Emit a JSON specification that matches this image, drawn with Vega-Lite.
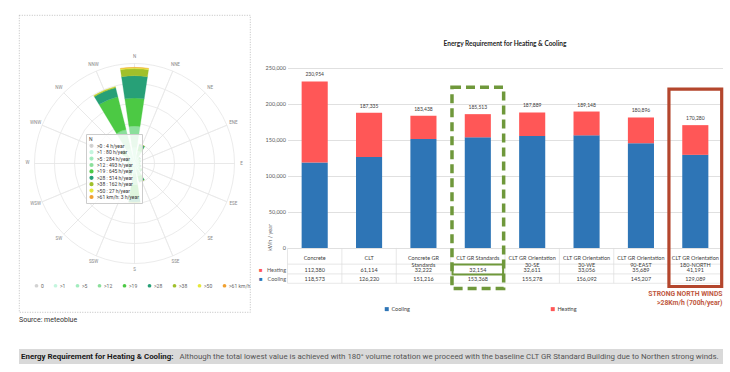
{
"$schema":"https://vega.github.io/schema/vega-lite/v6.json",
"padding":{"left":18,"top":14,"right":0,"bottom":0},
"background":"white",
"config":{"view":{"stroke":null},"font":"Lato"},
"datasets":{
"rose":[
{"d":"N","a":0,"c":"0","h":4},{"d":"N","a":0,"c":">1","h":80},{"d":"N","a":0,"c":">5","h":284},{"d":"N","a":0,"c":">12","h":493},{"d":"N","a":0,"c":">19","h":645},{"d":"N","a":0,"c":">28","h":514},{"d":"N","a":0,"c":">38","h":162},{"d":"N","a":0,"c":">50","h":27},{"d":"N","a":0,"c":">61 km/h","h":3},
{"d":"NNE","a":22.5,"c":"0","h":3},{"d":"NNE","a":22.5,"c":">1","h":50},{"d":"NNE","a":22.5,"c":">5","h":110},{"d":"NNE","a":22.5,"c":">12","h":140},{"d":"NNE","a":22.5,"c":">19","h":110},{"d":"NNE","a":22.5,"c":">28","h":40},{"d":"NNE","a":22.5,"c":">38","h":7},
{"d":"NE","a":45,"c":"0","h":3},{"d":"NE","a":45,"c":">1","h":40},{"d":"NE","a":45,"c":">5","h":70},{"d":"NE","a":45,"c":">12","h":45},{"d":"NE","a":45,"c":">19","h":18},{"d":"NE","a":45,"c":">28","h":4},
{"d":"ENE","a":67.5,"c":"0","h":3},{"d":"ENE","a":67.5,"c":">1","h":38},{"d":"ENE","a":67.5,"c":">5","h":60},{"d":"ENE","a":67.5,"c":">12","h":35},{"d":"ENE","a":67.5,"c":">19","h":10},{"d":"ENE","a":67.5,"c":">28","h":2},
{"d":"E","a":90,"c":"0","h":3},{"d":"E","a":90,"c":">1","h":38},{"d":"E","a":90,"c":">5","h":55},{"d":"E","a":90,"c":">12","h":25},{"d":"E","a":90,"c":">19","h":7},
{"d":"ESE","a":112.5,"c":"0","h":3},{"d":"ESE","a":112.5,"c":">1","h":40},{"d":"ESE","a":112.5,"c":">5","h":60},{"d":"ESE","a":112.5,"c":">12","h":35},{"d":"ESE","a":112.5,"c":">19","h":12},{"d":"ESE","a":112.5,"c":">28","h":2},
{"d":"SE","a":135,"c":"0","h":3},{"d":"SE","a":135,"c":">1","h":50},{"d":"SE","a":135,"c":">5","h":85},{"d":"SE","a":135,"c":">12","h":60},{"d":"SE","a":135,"c":">19","h":25},{"d":"SE","a":135,"c":">28","h":6},
{"d":"SSE","a":157.5,"c":"0","h":3},{"d":"SSE","a":157.5,"c":">1","h":50},{"d":"SSE","a":157.5,"c":">5","h":110},{"d":"SSE","a":157.5,"c":">12","h":140},{"d":"SSE","a":157.5,"c":">19","h":100},{"d":"SSE","a":157.5,"c":">28","h":35},{"d":"SSE","a":157.5,"c":">38","h":2},
{"d":"S","a":180,"c":"0","h":3},{"d":"S","a":180,"c":">1","h":60},{"d":"S","a":180,"c":">5","h":170},{"d":"S","a":180,"c":">12","h":260},{"d":"S","a":180,"c":">19","h":320},{"d":"S","a":180,"c":">28","h":80},{"d":"S","a":180,"c":">38","h":7},
{"d":"SSW","a":202.5,"c":"0","h":3},{"d":"SSW","a":202.5,"c":">1","h":50},{"d":"SSW","a":202.5,"c":">5","h":100},{"d":"SSW","a":202.5,"c":">12","h":80},{"d":"SSW","a":202.5,"c":">19","h":40},{"d":"SSW","a":202.5,"c":">28","h":7},
{"d":"SW","a":225,"c":"0","h":3},{"d":"SW","a":225,"c":">1","h":40},{"d":"SW","a":225,"c":">5","h":70},{"d":"SW","a":225,"c":">12","h":45},{"d":"SW","a":225,"c":">19","h":18},{"d":"SW","a":225,"c":">28","h":4},
{"d":"WSW","a":247.5,"c":"0","h":3},{"d":"WSW","a":247.5,"c":">1","h":38},{"d":"WSW","a":247.5,"c":">5","h":60},{"d":"WSW","a":247.5,"c":">12","h":35},{"d":"WSW","a":247.5,"c":">19","h":12},{"d":"WSW","a":247.5,"c":">28","h":2},
{"d":"W","a":270,"c":"0","h":3},{"d":"W","a":270,"c":">1","h":38},{"d":"W","a":270,"c":">5","h":60},{"d":"W","a":270,"c":">12","h":35},{"d":"W","a":270,"c":">19","h":12},{"d":"W","a":270,"c":">28","h":2},
{"d":"WNW","a":292.5,"c":"0","h":3},{"d":"WNW","a":292.5,"c":">1","h":45},{"d":"WNW","a":292.5,"c":">5","h":75},{"d":"WNW","a":292.5,"c":">12","h":50},{"d":"WNW","a":292.5,"c":">19","h":22},{"d":"WNW","a":292.5,"c":">28","h":5},
{"d":"NW","a":315,"c":"0","h":3},{"d":"NW","a":315,"c":">1","h":55},{"d":"NW","a":315,"c":">5","h":120},{"d":"NW","a":315,"c":">12","h":120},{"d":"NW","a":315,"c":">19","h":80},{"d":"NW","a":315,"c":">28","h":22},
{"d":"NNW","a":337.5,"c":"0","h":3},{"d":"NNW","a":337.5,"c":">1","h":70},{"d":"NNW","a":337.5,"c":">5","h":280},{"d":"NNW","a":337.5,"c":">12","h":450},{"d":"NNW","a":337.5,"c":">19","h":780},{"d":"NNW","a":337.5,"c":">28","h":210},{"d":"NNW","a":337.5,"c":">38","h":25},{"d":"NNW","a":337.5,"c":">50","h":2}
],
"nleg":[
{"c":"0","k":0,"lab":">0 : 4 h/year"},{"c":">1","k":1,"lab":">1 : 80 h/year"},{"c":">5","k":2,"lab":">5 : 284 h/year"},{"c":">12","k":3,"lab":">12 : 493 h/year"},{"c":">19","k":4,"lab":">19 : 645 h/year"},{"c":">28","k":5,"lab":">28 : 514 h/year"},{"c":">38","k":6,"lab":">38 : 162 h/year"},{"c":">50","k":7,"lab":">50 : 27 h/year"},{"c":">61 km/h","k":8,"lab":">61 km/h: 3 h/year"}
],
"dirs":[
{"d":"N","a":0},{"d":"NNE","a":22.5},{"d":"NE","a":45},{"d":"ENE","a":67.5},{"d":"E","a":90},{"d":"ESE","a":112.5},{"d":"SE","a":135},{"d":"SSE","a":157.5},{"d":"S","a":180},{"d":"SSW","a":202.5},{"d":"SW","a":225},{"d":"WSW","a":247.5},{"d":"W","a":270},{"d":"WNW","a":292.5},{"d":"NW","a":315},{"d":"NNW","a":337.5}
],
"rings":[{"r":460},{"r":920},{"r":1380},{"r":1840},{"r":2300}],
"energy":[
{"cat":"Concrete","Heating":112380,"Cooling":118573,"tot":230954},
{"cat":"CLT","Heating":61114,"Cooling":126220,"tot":187335},
{"cat":"Concrete GR\nStandards","Heating":32222,"Cooling":151216,"tot":183438},
{"cat":"CLT GR Standards","Heating":32154,"Cooling":153368,"tot":185513},
{"cat":"CLT GR Orientation\n30-SE","Heating":32611,"Cooling":155278,"tot":187889},
{"cat":"CLT GR Orientation\n30-WE","Heating":33056,"Cooling":156092,"tot":189148},
{"cat":"CLT GR Orientation\n90-EAST","Heating":35689,"Cooling":145207,"tot":180896},
{"cat":"CLT GR Orientation\n180-NORTH","Heating":41191,"Cooling":129089,"tot":170280}
],
"cap":[{"b":"Energy Requirement for Heating & Cooling:","n":"Although the total lowest value is achieved with 180° volume rotation we proceed with the baseline CLT GR Standard Building due to Northen strong winds."}]
},
"spacing":25,
"vconcat":[
{"spacing":6.5,
"hconcat":[
{
"width":231,"height":297,
"view":{"stroke":"#b0b0b0","strokeDash":[1,1.5],"strokeWidth":0.8},
"title":{"text":"Source: meteoblue","orient":"bottom","anchor":"start","fontSize":7,"fontWeight":"normal","color":"#333333","offset":4,"font":"Roboto"},
"layer":[
{"data":{"name":"rings"},
"mark":{"type":"arc","filled":false,"stroke":"#e2e2e2","strokeWidth":0.7},
"encoding":{
"theta":{"datum":0,"type":"quantitative","scale":{"domain":[0,360],"range":[0,6.2832]}},
"theta2":{"datum":360},
"radius":{"field":"r","type":"quantitative","stack":null,"scale":{"type":"linear","domain":[0,2300],"range":[0,100],"zero":true}}}},
{"data":{"name":"dirs"},
"mark":{"type":"arc","filled":false,"stroke":"#e6e6e6","strokeWidth":0.7},
"encoding":{
"theta":{"field":"a","type":"quantitative","stack":null,"scale":{"domain":[0,360],"range":[0,6.2832]}},
"theta2":{"field":"a"},
"radius":{"datum":2300,"type":"quantitative","stack":null,"scale":{"type":"linear","domain":[0,2300],"range":[0,100],"zero":true}}}},
{"data":{"name":"rose"},
"transform":[
{"lookup":"c","from":{"data":{"name":"nleg"},"key":"c","fields":["k","lab"]}},
{"stack":"h","groupby":["a"],"sort":[{"field":"k","order":"ascending"}],"as":["r0","r1"]},
{"calculate":"datum.a - 8.5","as":"t0"},
{"calculate":"datum.a + 8.5","as":"t1"}],
"mark":{"type":"arc","strokeWidth":0.3},
"encoding":{
"theta":{"field":"t0","type":"quantitative","stack":null,"scale":{"domain":[0,360],"range":[0,6.2832]}},
"theta2":{"field":"t1"},
"radius":{"field":"r1","type":"quantitative","stack":null,"scale":{"type":"linear","domain":[0,2300],"range":[0,100],"zero":true}},
"radius2":{"field":"r0"},
"fill":{"field":"c","type":"nominal","scale":{"domain":["0",">1",">5",">12",">19",">28",">38",">50",">61 km/h"],"range":["#d2d2d2","#c4f5de","#a2ecbe","#8bdf9b","#4cc944","#27a077","#a0c02b","#e6e83a","#f0a030"]},
"legend":{"title":null,"orient":"none","legendX":15,"legendY":268,"direction":"horizontal","symbolType":"circle","symbolSize":14,"symbolStrokeWidth":0,"labelFontSize":5,"labelColor":"#666666","labelFont":"Roboto","columnPadding":9,"labelOffset":2}},
"stroke":{"field":"lab","type":"nominal","scale":{"domain":[">0 : 4 h/year",">1 : 80 h/year",">5 : 284 h/year",">12 : 493 h/year",">19 : 645 h/year",">28 : 514 h/year",">38 : 162 h/year",">50 : 27 h/year",">61 km/h: 3 h/year"],"range":["#d2d2d2","#c4f5de","#a2ecbe","#8bdf9b","#4cc944","#27a077","#a0c02b","#e6e83a","#f0a030"]},
"legend":{"title":"N","orient":"none","legendX":67,"legendY":119,"direction":"vertical","fillColor":"rgba(255,255,255,0.82)","strokeColor":"#cccccc","padding":3,"titleFontSize":5,"titleFontWeight":"normal","titleColor":"#444444","titleFont":"Roboto","titlePadding":1,"labelFontSize":5,"labelFont":"Roboto","labelColor":"#333333","symbolSize":5,"symbolStrokeWidth":2,"symbolType":"circle","clipHeight":5.6,"rowPadding":0.4,"labelOffset":3,"labelLimit":120}}}},
{"data":{"name":"dirs"},
"mark":{"type":"text","fontSize":4.5,"color":"#888888","font":"Roboto"},
"encoding":{
"theta":{"field":"a","type":"quantitative","stack":null,"scale":{"domain":[0,360],"range":[0,6.2832]}},
"radius":{"datum":2460,"type":"quantitative","stack":null,"scale":{"type":"linear","domain":[0,2300],"range":[0,100],"zero":true}},
"text":{"field":"d"}}}
]
},
{
"width":435,"height":269,
"title":{"text":"Energy Requirement for Heating & Cooling","fontSize":6.5,"fontWeight":"bold","color":"#262626","offset":-32,"font":"Lato","anchor":"middle"},
"data":{"name":"energy"},
"layer":[
{"transform":[{"fold":["Cooling","Heating"],"as":["type","v"]},{"calculate":"datum.type == 'Cooling' ? 0 : 1","as":"o"}],
"mark":{"type":"bar","width":{"band":0.48}},
"encoding":{
"x":{"field":"cat","type":"nominal","sort":null,"scale":{"paddingInner":0,"paddingOuter":0},"axis":null},
"y":{"field":"v","type":"quantitative","stack":"zero","scale":{"domain":[-50000,323000],"nice":false,"zero":false},
"axis":{"orient":"left","values":[0,50000,100000,150000,200000,250000,-29900,-42400],"labelExpr":"datum.value == -29900 ? 'Heating' : datum.value == -42400 ? 'Cooling' : format(datum.value, ',')","title":"kWh / year","titleFontSize":5.5,"titleFontWeight":"normal","titleColor":"#595959","titleX":-18,"titleY":222,"titleAngle":270,"titleAlign":"center","titleBaseline":"middle","labelFontSize":5.5,"labelColor":"#595959","labelPadding":2,"ticks":false,"domain":false,"grid":true,"gridColor":"#e0e0e0","gridOpacity":{"condition":{"test":"datum.value < 0","value":0},"value":1},"labelFlush":false,"labelOverlap":false}},
"order":{"field":"o","type":"quantitative","sort":"ascending"},
"color":{"field":"type","type":"nominal","scale":{"domain":["Cooling","Heating"],"range":["#2e75b6","#ff5757"]},
"legend":{"title":null,"orient":"none","legendX":365,"legendY":291,"direction":"horizontal","symbolType":"square","symbolSize":16,"symbolStrokeWidth":0,"labelFontSize":5.5,"labelColor":"#404040","columnPadding":140,"labelOffset":2}}}},
{"mark":{"type":"text","baseline":"bottom","dy":-4,"fontSize":5,"color":"#404040"},
"encoding":{
"x":{"field":"cat","type":"nominal","sort":null},
"y":{"field":"tot","type":"quantitative","axis":null},
"text":{"field":"tot","type":"quantitative","format":","}}},
{"mark":{"type":"rule","color":"#dcdcdc","strokeWidth":0.7},
"encoding":{
"x":{"field":"cat","type":"nominal","sort":null,"bandPosition":0},
"y":{"datum":0,"type":"quantitative","axis":null},
"y2":{"datum":-49000}}},
{"transform":[{"filter":"datum.cat == 'Concrete'"}],
"mark":{"type":"rule","color":"#dcdcdc","strokeWidth":0.7},
"encoding":{"y":{"datum":-22500,"type":"quantitative","axis":null}}},
{"transform":[{"filter":"datum.cat == 'Concrete'"}],
"mark":{"type":"rule","color":"#dcdcdc","strokeWidth":0.7},
"encoding":{"y":{"datum":-36000,"type":"quantitative",
"axis":{"orient":"left","values":[-29900,-42400],"labelExpr":"'■'","labelColor":{"condition":{"test":"datum.value == -29900","value":"#ff5757"},"value":"#2e75b6"},"labelFontSize":6,"ticks":false,"domain":false,"grid":false,"title":null,"offset":23.5,"labelPadding":2,"labelFlush":false,"labelOverlap":false}}}},
{"transform":[{"filter":"datum.cat == 'Concrete'"}],
"mark":{"type":"rule","color":"#dcdcdc","strokeWidth":0.7},
"encoding":{"y":{"datum":-49000,"type":"quantitative","axis":null}}},
{"mark":{"type":"text","fontSize":5.5,"color":"#404040","lineBreak":"\n","lineHeight":7},
"encoding":{
"x":{"field":"cat","type":"nominal","sort":null},
"y":{"datum":-13900,"type":"quantitative","axis":null},
"text":{"field":"cat"}}},
{"mark":{"type":"text","fontSize":5.5,"color":"#404040"},
"encoding":{
"x":{"field":"cat","type":"nominal","sort":null},
"y":{"datum":-29900,"type":"quantitative","axis":null},
"text":{"field":"Heating","type":"quantitative","format":","}}},
{"mark":{"type":"text","fontSize":5.5,"color":"#404040"},
"encoding":{
"x":{"field":"cat","type":"nominal","sort":null},
"y":{"datum":-42400,"type":"quantitative","axis":null},
"text":{"field":"Cooling","type":"quantitative","format":","}}},
{"transform":[{"filter":"datum.cat == 'CLT GR Standards'"}],
"mark":{"type":"bar","width":{"band":0.93},"fillOpacity":0,"stroke":"#6f983b","strokeWidth":2},
"encoding":{
"x":{"field":"cat","type":"nominal","sort":null},
"y":{"datum":-22900,"type":"quantitative","axis":null},
"y2":{"datum":-36800}}},
{"transform":[{"filter":"datum.cat == 'CLT GR Standards'"}],
"mark":{"type":"bar","width":{"band":0.95},"fillOpacity":0,"stroke":"#6f983b","strokeWidth":3.5,"strokeDash":[9,5]},
"encoding":{
"x":{"field":"cat","type":"nominal","sort":null},
"y":{"datum":222900,"type":"quantitative","axis":null},
"y2":{"datum":-56250}}},
{"transform":[{"filter":"indexof(datum.cat, '180-NORTH') >= 0"}],
"mark":{"type":"bar","width":{"band":0.97},"fillOpacity":0,"stroke":"#b4462d","strokeWidth":3.2},
"encoding":{
"x":{"field":"cat","type":"nominal","sort":null},
"y":{"datum":220100,"type":"quantitative","axis":null},
"y2":{"datum":-53500}}},
{"transform":[{"filter":"indexof(datum.cat, '180-NORTH') >= 0"}],
"mark":{"type":"text","text":["STRONG NORTH WINDS",">28Km/h (700h/year)"],"align":"right","baseline":"middle","fontSize":6.8,"fontWeight":"bold","color":"#c0583e","lineHeight":9,"font":"Roboto"},
"encoding":{
"x":{"field":"cat","type":"nominal","sort":null,"bandPosition":1},
"y":{"datum":-64500,"type":"quantitative","axis":null}}}
],
"resolve":{"axis":{"y":"independent"}}
}
]
},
{
"width":704,"height":15,
"view":{"fill":"#d9d9d9","stroke":null},
"data":{"name":"cap"},
"layer":[
{"mark":{"type":"text","align":"left","fontWeight":"bold","fontSize":7.9,"font":"Roboto","color":"#1a1a1a"},
"encoding":{"x":{"datum":0.003,"type":"quantitative","scale":{"domain":[0,1],"nice":false},"axis":null},"text":{"field":"b"}}},
{"mark":{"type":"text","align":"left","fontSize":7.9,"font":"Roboto","color":"#555555"},
"encoding":{"x":{"datum":0.228,"type":"quantitative","axis":null},"text":{"field":"n"}}}
]
}
]
}
